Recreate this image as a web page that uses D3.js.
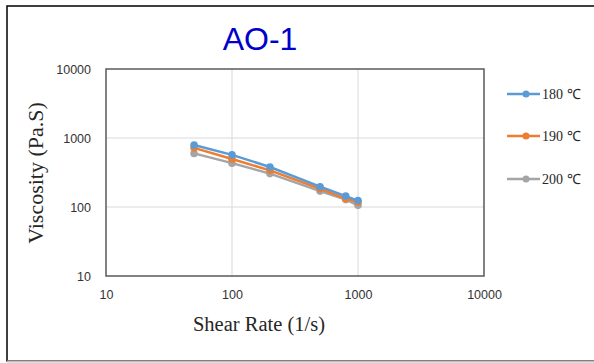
<!DOCTYPE html>
<html>
<head>
<meta charset="utf-8">
<script src="https://cdn.jsdelivr.net/npm/d3@7"></script>
<style>
  body { margin: 0; background: #fff; }
</style>
</head>
<body>
<div id="chart"></div>
<script>
// shear rates (1/s)
const shearRates = [50, 100, 200, 500, 800, 1000];
// viscosity per temperature (Pa.S)
const visc180 = [790, 570, 380, 197, 144, 124];
const visc190 = [720, 495, 340, 184, 132, 118];
const visc200 = [598, 432, 305, 170, 128, 106];
const seriesNames = ["180 ℃", "190 ℃", "200 ℃"];
const seriesColors = ["#5B9BD5", "#ED7D31", "#A5A5A5"];
const xTicks = [10, 100, 1000, 10000];
const yTicks = [10, 100, 1000, 10000];

const W = 594, H = 363;
const svg = d3.select("#chart").append("svg")
  .attr("width", W).attr("height", H);

// outer frame
svg.append("rect").attr("x", 7).attr("y", 6).attr("width", 600).attr("height", 355)
  .attr("fill", "#fff").attr("stroke", "#000").attr("stroke-width", 1.5);
svg.append("line").attr("x1", 7).attr("x2", W).attr("y1", 361.5).attr("y2", 361.5)
  .attr("stroke", "#bfbfbf").attr("stroke-width", 2);

const plot = { left: 106, right: 484, top: 69, bottom: 276 };

const x = d3.scaleLog().domain([10, 10000]).range([plot.left, plot.right]);
const y = d3.scaleLog().domain([10, 10000]).range([plot.bottom, plot.top]);

// gridlines
svg.append("g").selectAll("line.gx")
  .data(xTicks.slice(1, -1)).join("line")
  .attr("x1", d => x(d)).attr("x2", d => x(d))
  .attr("y1", plot.top).attr("y2", plot.bottom)
  .attr("stroke", "#d9d9d9").attr("stroke-width", 1);
svg.append("g").selectAll("line.gy")
  .data(yTicks.slice(1, -1)).join("line")
  .attr("x1", plot.left).attr("x2", plot.right)
  .attr("y1", d => y(d)).attr("y2", d => y(d))
  .attr("stroke", "#d9d9d9").attr("stroke-width", 1);

// axes (labels only)
const xAxis = d3.axisBottom(x).tickValues(xTicks).tickFormat(d3.format("d")).tickSize(0).tickPadding(14);
const yAxis = d3.axisLeft(y).tickValues(yTicks).tickFormat(d3.format("d")).tickSize(0).tickPadding(15);

const gx = svg.append("g").attr("transform", `translate(0,${plot.bottom})`).call(xAxis);
const gy = svg.append("g").attr("transform", `translate(${plot.left},0)`).call(yAxis);
[gx, gy].forEach(g => {
  g.select(".domain").remove();
  g.selectAll("text").attr("font-family", "Liberation Sans, Arial, sans-serif")
    .attr("font-size", 12.5).attr("fill", "#333");
});

// plot border
svg.append("rect").attr("x", plot.left).attr("y", plot.top)
  .attr("width", plot.right - plot.left).attr("height", plot.bottom - plot.top)
  .attr("fill", "none").attr("stroke", "#595959").attr("stroke-width", 1.5);

// series
const series = [visc180, visc190, visc200].map((vals, i) => ({
  name: seriesNames[i], color: seriesColors[i],
  points: shearRates.map((s, j) => ({ s: s, v: vals[j] }))
}));

const line = d3.line().x(d => x(d.s)).y(d => y(d.v));

// draw in reverse so blue sits on top
series.slice().reverse().forEach(sr => {
  svg.append("path").attr("d", line(sr.points))
    .attr("fill", "none").attr("stroke", sr.color).attr("stroke-width", 2.5);
  svg.append("g").selectAll("circle").data(sr.points).join("circle")
    .attr("cx", d => x(d.s)).attr("cy", d => y(d.v)).attr("r", 3.8)
    .attr("fill", sr.color);
});

// title
svg.append("text").attr("x", 260).attr("y", 50).attr("text-anchor", "middle")
  .attr("font-family", "Liberation Sans, Arial, sans-serif").attr("font-size", 32)
  .attr("fill", "#0000CC").text("AO-1");

// axis titles
svg.append("text").attr("x", 259).attr("y", 331).attr("text-anchor", "middle")
  .attr("font-family", "Liberation Serif, Times New Roman, serif").attr("font-size", 20.5)
  .attr("fill", "#262626").text("Shear Rate (1/s)");
svg.append("text").attr("transform", "translate(43,173) rotate(-90)")
  .attr("text-anchor", "middle")
  .attr("font-family", "Liberation Serif, Times New Roman, serif").attr("font-size", 22)
  .attr("fill", "#262626").text("Viscosity (Pa.S)");

// legend
const legendY = [94, 136, 179];
const lg = svg.append("g").selectAll("g").data(series).join("g")
  .attr("transform", (d, i) => `translate(507,${legendY[i]})`);
lg.append("line").attr("x1", 0).attr("x2", 33).attr("y1", 0).attr("y2", 0)
  .attr("stroke", d => d.color).attr("stroke-width", 2.5);
lg.append("circle").attr("cx", 19).attr("cy", 0).attr("r", 3.5).attr("fill", d => d.color);
lg.append("text").attr("x", 35).attr("y", 5)
  .attr("font-family", "Liberation Serif, Times New Roman, serif").attr("font-size", 14)
  .attr("fill", "#262626").text(d => d.name);
</script>
</body>
</html>
